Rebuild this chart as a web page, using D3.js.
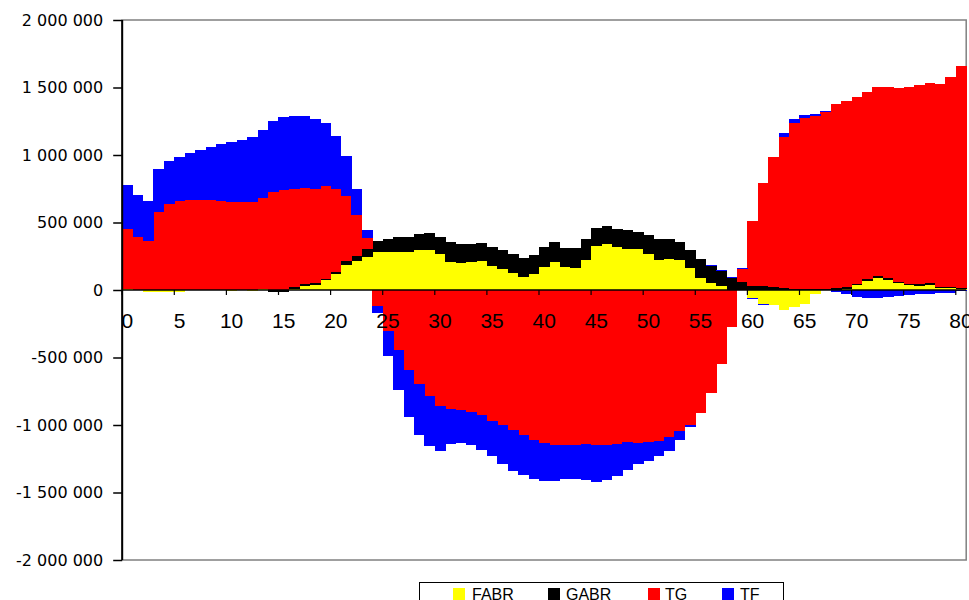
<!DOCTYPE html>
<html><head><meta charset="utf-8">
<script src="https://cdn.jsdelivr.net/npm/d3@7"></script>
<style>html,body{margin:0;padding:0;background:#fff;overflow:hidden} svg{display:block}</style>
</head><body><svg id="chart" width="969" height="600"></svg>
<script>
// ---- data (values in thousands) ----
const categories = [0,1,2,3,4,5,6,7,8,9,10,11,12,13,14,15,16,17,18,19,20,21,22,23,24,25,26,27,28,29,30,31,32,33,34,35,36,37,38,39,40,41,42,43,44,45,46,47,48,49,50,51,52,53,54,55,56,57,58,59,60,61,62,63,64,65,66,67,68,69,70,71,72,73,74,75,76,77,78,79,80];
const seriesNames = ["FABR","GABR","TG","TF"];
const FABR = [5,-3,-12,-12,-12,-12,-3,-2,0,-3,-5,0,-5,5,0,0,5,32,37,72,118,185,215,247,283,284,284,284,299,299,267,210,202,210,215,180,156,123,96,116,170,207,173,160,222,326,341,316,304,304,264,222,227,222,163,89,54,30,3,0,-57,-104,-114,-148,-126,-101,-32,0,0,5,35,69,89,77,49,37,32,40,17,17,10];
const GABR = [0,0,0,0,0,0,0,0,0,0,0,0,0,0,-12,-12,15,12,15,12,18,30,39,54,80,94,106,106,113,121,126,148,136,133,133,136,143,141,139,143,146,146,141,149,156,136,131,138,138,128,143,153,153,136,131,138,124,111,88,58,33,27,20,13,10,8,7,7,17,20,9,15,15,12,13,10,10,9,8,8,7];
const TG = [449,395,365,578,637,657,667,667,667,662,654,654,654,679,728,743,731,712,699,686,612,481,302,84,-116,-306,-442,-590,-696,-783,-857,-879,-889,-904,-928,-973,-1002,-1037,-1072,-1109,-1136,-1151,-1151,-1146,-1138,-1146,-1146,-1140,-1126,-1130,-1126,-1116,-1089,-1042,-998,-911,-763,-548,-274,95,478,766,965,1120,1225,1268,1284,1314,1363,1375,1388,1385,1400,1415,1434,1457,1479,1484,1503,1553,1645];
const TF = [321,309,294,318,318,328,350,370,392,422,442,457,479,501,524,538,540,535,516,467,395,297,192,59,-54,-180,-296,-353,-376,-370,-338,-262,-244,-242,-255,-259,-284,-301,-301,-289,-276,-261,-252,-252,-269,-276,-259,-240,-205,-156,-143,-111,-101,-72,-19,0,7,7,7,7,-7,-7,0,30,32,20,10,5,-15,-27,-52,-57,-57,-52,-44,-40,-32,-27,-20,-20,-10];
const seriesColors = ["#FFFF00","#000000","#FF0000","#0000FF"];
const yTickValues = [2000000,1500000,1000000,500000,0,-500000,-1000000,-1500000,-2000000];
const yTickLabels = ["2 000 000","1 500 000","1 000 000","500 000","0","-500 000","-1 000 000","-1 500 000","-2 000 000"];
const xTickCats = [0,5,10,15,20,25,30,35,40,45,50,55,60,65,70,75,80];
const xTickLabels = ["0","5","10","15","20","25","30","35","40","45","50","55","60","65","70","75","80"];

// ---- layout ----
const svg = d3.select("#chart");
const plotL = 122.2, plotR = 966.2, plotT = 20, plotB = 560;
const x = d3.scaleBand().domain(categories).range([plotL, plotR]).padding(0);
const y = d3.scaleLinear().domain([-2000000, 2000000]).range([plotB, plotT]);
const color = d3.scaleOrdinal().domain(seriesNames).range(seriesColors);

const seriesArrays = {FABR, GABR, TG, TF};
const rows = categories.map((c, i) => {
  const r = {cat: c};
  seriesNames.forEach(k => r[k] = seriesArrays[k][i] * 1000);
  return r;
});
const layers = d3.stack().keys(seriesNames).offset(d3.stackOffsetDiverging)(rows);

// plot area border
svg.append("rect").attr("x", plotL).attr("y", plotT)
  .attr("width", plotR - plotL).attr("height", plotB - plotT)
  .attr("fill", "none").attr("stroke", "#808080").attr("stroke-width", 1.5);

// bars
const g = svg.append("g").attr("shape-rendering", "crispEdges");
layers.forEach(layer => {
  g.append("g").attr("fill", color(layer.key))
    .selectAll("rect").data(layer).join("rect")
    .attr("x", d => x(d.data.cat))
    .attr("width", x.bandwidth() + 0.4)
    .attr("y", d => y(Math.max(d[0], d[1])))
    .attr("height", d => Math.abs(y(d[0]) - y(d[1])));
});

// y axis
const yAxis = d3.axisLeft(y).tickValues(yTickValues)
  .tickFormat((d, i) => yTickLabels[i]).tickSize(9).tickPadding(10);
const ya = svg.append("g").attr("transform", `translate(${plotL},0)`).call(yAxis);
ya.select(".domain").remove();
ya.selectAll(".tick line").attr("stroke", "#000").attr("stroke-width", 1.5);
ya.selectAll(".tick text").attr("font-family", "DejaVu Sans").attr("font-size", 16).attr("fill", "#000");
svg.append("line").attr("x1", plotL).attr("x2", plotL).attr("y1", plotT).attr("y2", plotB)
  .attr("stroke", "#000").attr("stroke-width", 2);

// x axis at zero
const y0 = y(0);
svg.append("line").attr("x1", plotL).attr("x2", plotR).attr("y1", y0).attr("y2", y0)
  .attr("stroke", "#000").attr("stroke-width", 1.5);
svg.append("g").selectAll("line").data(xTickCats).join("line")
  .attr("x1", d => x(d)).attr("x2", d => x(d))
  .attr("y1", y0).attr("y2", y0 + 5)
  .attr("stroke", "#000").attr("stroke-width", 1.2);
const xAxis = d3.axisBottom(x).tickValues(xTickCats)
  .tickFormat((d, i) => xTickLabels[i]).tickSize(0).tickPadding(23);
const xa = svg.append("g").attr("transform", `translate(0,${y0})`).call(xAxis);
xa.select(".domain").remove();
xa.selectAll(".tick text").attr("font-family", "Liberation Sans, Arial").attr("font-size", 21).attr("fill", "#000");

// legend
const lg = svg.append("g");
lg.append("rect").attr("x", 419.5).attr("y", 582.5).attr("width", 364).attr("height", 30)
  .attr("fill", "#fff").attr("stroke", "#000").attr("stroke-width", 1);
const legendPos = [{sx: 453, tx: 472}, {sx: 548, tx: 566}, {sx: 648, tx: 665}, {sx: 722, tx: 740}];
seriesNames.forEach((k, i) => {
  lg.append("rect").attr("x", legendPos[i].sx).attr("y", 588).attr("width", 12).attr("height", 12)
    .attr("fill", color(k));
  lg.append("text").attr("x", legendPos[i].tx).attr("y", 600)
    .attr("font-family", "Liberation Sans, Arial").attr("font-size", 16).attr("fill", "#000").text(k);
});
</script>
</body></html>
